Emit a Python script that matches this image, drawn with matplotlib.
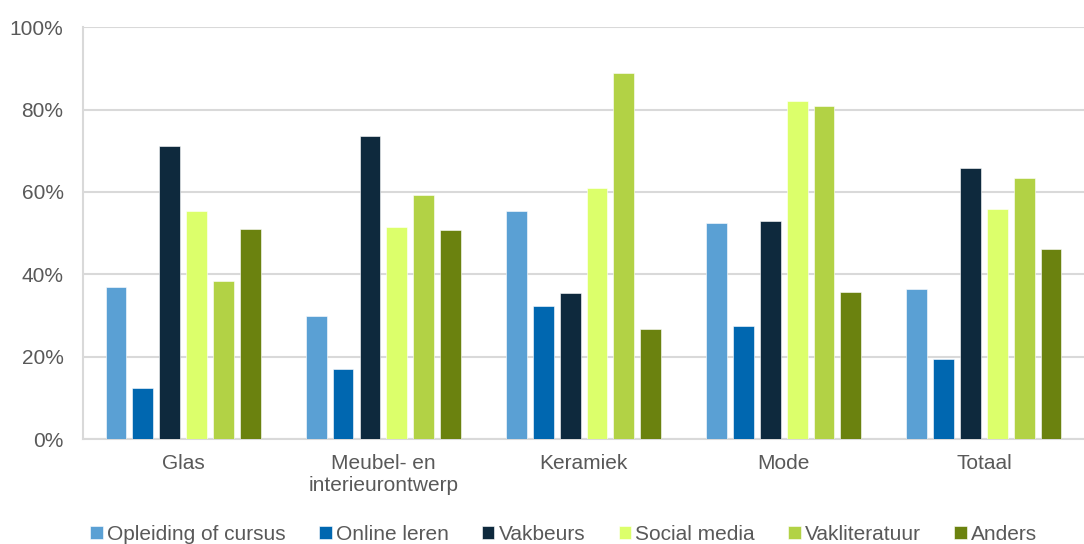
import numpy as np
from matplotlib import pyplot as plt

plt.rcParams['font.family'] = ['Liberation Sans', 'DejaVu Sans']

categories = ['Glas', 'Meubel- en\ninterieurontwerp', 'Keramiek', 'Mode', 'Totaal']
series = ['Opleiding of cursus', 'Online leren', 'Vakbeurs', 'Social media', 'Vakliteratuur', 'Anders']

opleiding = [36.9, 29.9, 55.3, 52.4, 36.4]
online = [12.4, 17.0, 32.3, 27.4, 19.4]
vakbeurs = [71.1, 73.5, 35.4, 52.9, 65.8]
social = [55.3, 51.5, 60.9, 82.0, 55.8]
vaklit = [38.4, 59.2, 88.8, 80.8, 63.3]
anders = [51.0, 50.8, 26.7, 35.7, 46.1]

colors = ['#5aa0d4', '#0067b0', '#0e293d', '#dcff6b', '#b2d245', '#6b820f']
values = [opleiding, online, vakbeurs, social, vaklit, anders]

fig = plt.figure(figsize=(10.84, 5.44), dpi=100)
ax = fig.add_axes([0.0766, 0.193, 0.9234, 0.757])

x = np.arange(len(categories))
step = 0.134
width = 0.104
for i, (name, vals) in enumerate(zip(series, values)):
    ax.bar(x + (i - 2.5) * step, vals, width, color=colors[i], label=name,
           edgecolor='white', linewidth=0.4, zorder=3)

ax.set_xlim(-0.5, 4.5)
ax.set_ylim(0, 100)
ax.set_yticks(range(0, 101, 20))
ax.set_yticklabels([f'{v}%' for v in range(0, 101, 20)])
ax.set_xticks(x)
ax.set_xticklabels(categories)
ax.tick_params(axis='both', length=0, labelsize=15, colors='#595959')
ax.tick_params(axis='y', pad=14)
ax.tick_params(axis='x', pad=11)
ax.grid(axis='y', color='#d9d9d9', linewidth=1.5, zorder=0)
for s in ['top', 'right']:
    ax.spines[s].set_visible(False)
for s in ['left', 'bottom']:
    ax.spines[s].set_color('#d9d9d9')
    ax.spines[s].set_linewidth(1.5)

# legend sits right at the bottom edge
fig.legend(loc='center', bbox_to_anchor=(0.52, 0.018), ncol=6, frameon=False,
           fontsize=15, labelcolor='#595959', handlelength=0.6, handleheight=0.6,
           handletextpad=0.2, columnspacing=1.6)

fig.savefig('out.png', dpi=100)
